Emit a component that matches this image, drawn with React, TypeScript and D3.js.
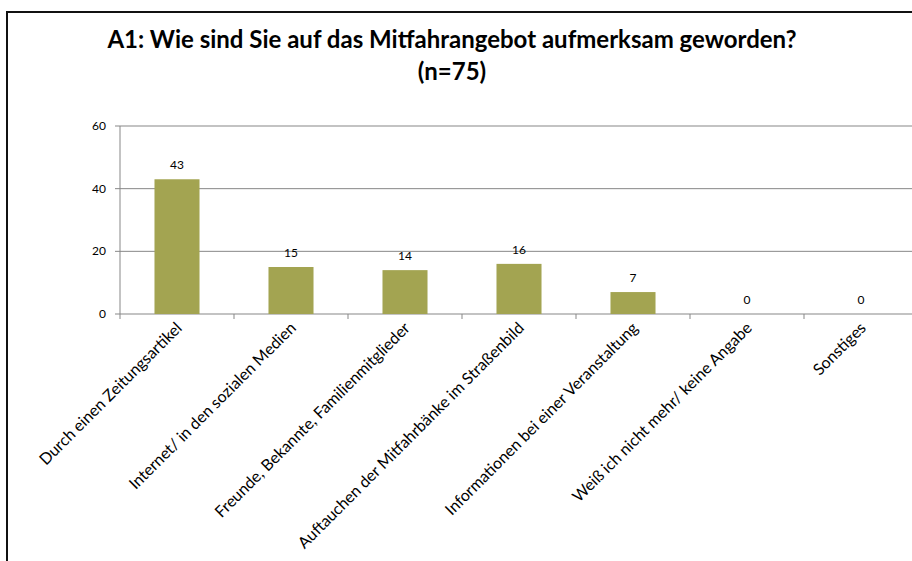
import React from "react";
import * as d3 from "d3";

const title1 = "A1: Wie sind Sie auf das Mitfahrangebot aufmerksam geworden?";
const title2 = "(n=75)";

const categories = [
  "Durch einen Zeitungsartikel",
  "Internet/ in den sozialen Medien",
  "Freunde, Bekannte, Familienmitglieder",
  "Auftauchen der Mitfahrbänke im Straßenbild",
  "Informationen bei einer Veranstaltung",
  "Weiß ich nicht mehr/ keine Angabe",
  "Sonstiges",
];
const counts = [43, 15, 14, 16, 7, 0, 0];
const yTicks = [0, 20, 40, 60];

const W = 912;
const H = 561;
const FONT = "Lato, 'Liberation Sans', Arial, sans-serif";

function App() {
  const x = d3.scaleBand<string>().domain(categories).range([120, 918]);
  const y = d3.scaleLinear().domain([0, 60]).range([314, 126]);
  const barW = x.bandwidth() * 0.395;
  const bounds = categories.map((c) => x(c) as number);

  return (
    <svg width={W} height={H} style={{ position: "absolute", left: 0, top: 0, background: "#fff" }}>
      {/* frame */}
      <path d={`M7,${H} V12 H${W}`} fill="none" stroke="#111" strokeWidth={2} />

      <text x={452} y={48} textAnchor="middle" fontFamily={FONT} fontWeight="bold" fontSize={24} fill="#000">
        {title1}
      </text>
      <text x={452} y={80} textAnchor="middle" fontFamily={FONT} fontWeight="bold" fontSize={24} fill="#000">
        {title2}
      </text>

      {/* grid lines */}
      {yTicks.map((t) => (
        <g key={t}>
          <line x1={115} x2={W} y1={y(t)} y2={y(t)} stroke="#878787" strokeWidth={1} />
          <text x={106} y={y(t) + 4} textAnchor="end" fontFamily={FONT} fontSize={12} fill="#000">
            {t}
          </text>
        </g>
      ))}
      {/* y axis */}
      <line x1={120} x2={120} y1={y(60)} y2={y(0)} stroke="#878787" strokeWidth={1} />

      {/* x ticks */}
      {bounds.map((b, i) => (
        <line key={i} x1={b} x2={b} y1={y(0)} y2={y(0) + 5} stroke="#878787" strokeWidth={1} />
      ))}

      {/* bars */}
      {categories.map((c, i) => {
        const cx = (x(c) as number) + x.bandwidth() / 2;
        return (
          <g key={c}>
            {counts[i] > 0 && (
              <rect x={cx - barW / 2} y={y(counts[i])} width={barW} height={y(0) - y(counts[i])} fill="#a3a451" />
            )}
            <text x={cx} y={y(counts[i]) - 10} textAnchor="middle" fontFamily={FONT} fontSize={12} fill="#000">
              {counts[i]}
            </text>
            <text
              transform={`translate(${cx + 6},${y(0) + 15}) rotate(-45)`}
              textAnchor="end"
              fontFamily={FONT}
              fontSize={16}
              fill="#000"
            >
              {c}
            </text>
          </g>
        );
      })}
    </svg>
  );
}

export default App;
